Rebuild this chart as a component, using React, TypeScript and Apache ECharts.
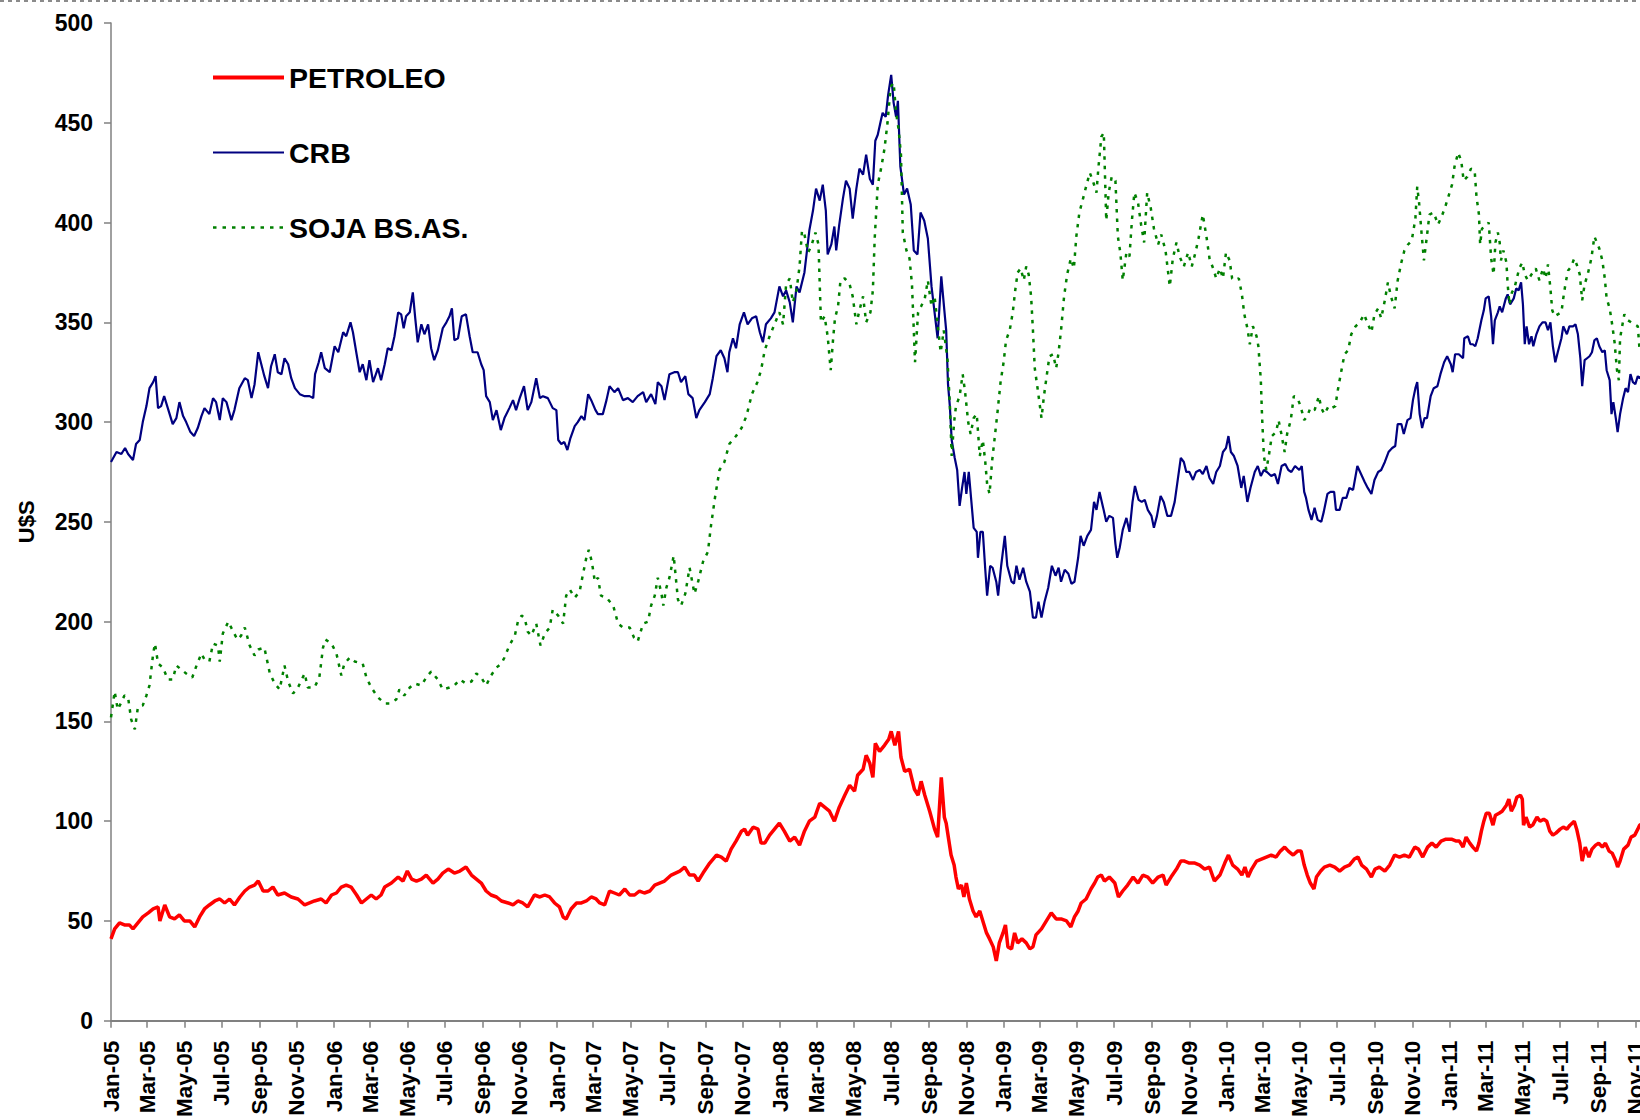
import React, { useEffect, useRef } from "react";
import * as echarts from "echarts";

// x = days since 2005-01-01, y = US$
const petroleo: [number, number][] = [
  [0,41],[6,46],[14,49],[22,48],[30,48],[36,46],[44,49],[52,52],[61,54],[69,56],[77,57],[80,50],[88,58],[96,52],[104,51],[112,53],[120,50],[129,50],[137,47],[145,52],[153,56],[161,58],[170,60],[178,61],[186,59],[194,61],[202,58],[211,62],[219,65],[227,67],[235,68],[241,70],[249,65],[257,65],[265,67],[273,63],[284,64],[295,62],[306,61],[317,58],[325,59],[333,60],[344,61],[352,59],[361,63],[369,64],[377,67],[385,68],[393,67],[402,63],[410,59],[418,61],[426,63],[434,61],[442,63],
  [448,67],[459,69],[470,72],[478,70],[485,75],[492,71],[500,70],[508,71],[516,73],[527,69],[535,71],[543,74],[552,76],[562,74],[571,75],[581,77],[590,73],[598,71],[606,69],[614,65],[622,63],[631,62],[639,60],[650,59],[658,58],[666,60],[674,59],[682,57],[693,63],[702,62],[710,63],[718,62],[726,59],[734,57],[740,52],[745,51],[753,56],[762,59],[770,59],[778,60],[786,62],[794,61],[800,59],[808,58],[816,65],[824,64],[832,63],[841,66],[849,63],[857,63],[865,65],[873,64],[882,65],[890,68],[898,69],
  [906,70],[917,73],[931,75],[939,77],[947,73],[955,73],[961,70],[969,74],[980,79],[991,83],[999,82],[1007,80],[1015,86],[1023,90],[1032,95],[1037,96],[1042,93],[1051,97],[1059,96],[1064,89],[1070,89],[1078,93],[1086,96],[1094,99],[1102,95],[1111,90],[1119,92],[1127,88],[1135,95],[1143,100],[1152,102],[1160,109],[1168,107],[1176,105],[1184,100],[1192,107],[1201,113],[1209,118],[1217,115],[1222,123],[1231,126],[1236,133],[1242,129],[1247,122],[1251,139],[1258,135],[1266,138],[1273,141],[1277,145],[1283,138],[1289,145],[1293,132],[1299,125],[1307,126],[1315,116],[1321,113],[1326,120],[1332,113],[1340,105],[1348,96],[1353,92],[1359,122],[1364,102],[1367,99],[1371,91],[1375,83],[1380,78],[1383,72],[1387,66],[1392,68],[1396,62],[1400,69],[1405,61],[1411,55],[1416,52],[1422,55],[1427,50],[1433,44],[1438,41],[1444,37],[1449,30],[1454,39],[1460,44],[1464,48],[1468,37],[1474,36],[1479,44],[1484,39],[1491,41],[1498,39],[1504,36],[1509,37],[1514,43],[1523,46],[1531,50],[1539,54],[1547,51],[1555,51],[1564,50],[1571,47],[1577,52],[1583,55],[1588,59],[1596,61],[1604,66],[1610,69],[1615,72],[1621,73],[1626,70],[1634,72],[1643,69],[1649,62],[1656,65],[1664,68],[1673,72],[1681,69],[1689,73],[1697,72],[1705,69],[1714,72],[1722,73],[1727,68],[1735,72],[1744,76],[1751,80],[1757,80],[1765,79],[1774,79],[1782,78],[1790,76],[1798,77],[1806,70],[1815,73],[1823,79],
  [1829,83],[1836,78],[1844,76],[1851,73],[1856,77],[1861,72],[1867,76],[1875,80],[1883,81],[1891,82],[1899,83],[1907,82],[1914,85],[1921,87],[1927,85],[1935,83],[1942,85],[1948,85],[1953,78],[1958,73],[1963,69],[1969,66],[1973,72],[1980,75],[1986,77],[1995,78],[2003,77],[2011,75],[2019,77],[2027,78],[2035,81],[2041,82],[2047,78],[2055,76],[2063,72],[2069,76],[2076,77],[2085,75],[2093,78],[2101,83],[2109,82],[2117,83],[2125,82],[2134,87],[2140,86],[2147,82],[2155,87],[2162,89],[2169,87],[2177,90],[2185,91],[2194,91],[2202,90],
  [2207,90],[2213,87],[2218,92],[2224,89],[2229,87],[2235,85],[2239,89],[2243,95],[2247,100],[2251,104],[2256,104],[2262,98],[2266,103],[2272,104],[2277,105],[2284,108],[2288,111],[2292,105],[2297,108],[2301,112],[2307,113],[2310,111],[2312,98],[2316,102],[2322,97],[2327,98],[2334,102],[2339,100],[2345,101],[2350,100],[2355,95],[2360,93],[2365,94],[2372,96],[2377,97],[2383,96],[2388,98],[2395,100],[2399,96],[2404,89],[2408,80],[2413,87],[2419,82],[2424,86],[2430,88],[2435,89],[2441,87],[2446,89],[2452,85],[2457,84],[2463,80],[2466,77],[2470,80],[2476,86],[2483,88],[2488,92],[2494,93],[2499,96],[2502,98],[2510,99],
];

const crb: [number, number][] = [
  [0,280],[9,285],[17,284],[23,287],[28,284],[36,281],[41,289],[47,291],[52,300],[58,308],[63,317],[69,320],[73,323],[77,307],[82,308],[87,313],[93,307],[101,299],[107,302],[112,310],[118,303],[123,300],[130,295],[136,293],[142,297],[148,303],[153,307],[161,304],[167,312],[172,310],[178,301],[183,312],[189,310],[197,301],[202,306],[210,317],[219,322],[224,321],[230,312],[235,319],[241,335],[246,329],[251,323],[257,317],[262,328],[268,334],[273,325],[279,324],[284,332],[290,329],[295,322],[301,317],[309,314],[317,313],[325,313],[331,312],[334,324],[340,330],[344,335],[350,327],[358,325],[366,338],[372,335],[380,345],[385,343],[392,350],[396,345],[402,334],[407,325],[412,329],[418,321],[423,331],[429,320],[437,327],[442,321],
  [448,329],[453,337],[459,336],[464,343],[470,355],[475,354],[479,347],[483,353],[489,355],[494,365],[498,352],[502,340],[508,349],[513,344],[519,349],[524,337],[529,331],[535,336],[543,347],[549,350],[554,353],[558,357],[562,341],[568,342],[574,353],[581,354],[587,343],[592,335],[600,335],[606,329],[610,326],[614,313],[620,310],[625,301],[631,306],[638,296],[644,302],[652,307],[658,311],[663,306],[669,312],[676,318],[682,306],[688,310],[696,322],[702,312],[707,313],[715,312],[723,307],[729,306],[732,291],[737,289],[742,290],[747,286],[752,292],[759,298],[764,300],[770,303],[775,301],[781,314],[786,311],[793,306],[797,304],[805,304],[811,311],[816,318],[824,315],[830,317],[838,311],[846,312],[854,310],[862,313],[871,315],[876,310],[884,314],[891,309],[895,320],[901,318],
  [906,311],[914,324],[922,325],[928,325],[933,320],[940,323],[945,314],[952,312],[958,302],[963,306],[972,310],[980,314],[985,322],[991,333],[998,336],[1004,332],[1009,325],[1012,335],[1018,342],[1023,337],[1029,349],[1036,355],[1042,349],[1049,352],[1056,353],[1062,345],[1067,340],[1072,349],[1080,352],[1086,355],[1094,368],[1100,363],[1105,366],[1111,360],[1116,350],[1122,368],[1127,365],[1135,375],[1143,396],[1149,406],[1154,417],[1160,411],[1165,419],[1170,406],[1173,384],[1179,389],[1184,398],[1187,386],[1192,399],[1198,412],[1203,421],[1209,417],[1214,402],[1220,417],[1225,427],[1231,424],[1236,434],[1242,422],[1247,419],[1251,441],[1255,444],[1260,451],[1263,455],[1268,453],[1272,464],[1277,474],[1281,460],[1285,453],[1288,461],[1292,428],[1298,414],[1303,417],[1309,409],[1314,386],[1320,384],[1325,405],[1331,401],[1337,392],[1343,368],[1348,355],[1353,342],[1359,373],[1364,356],
  [1367,346],[1370,319],[1373,308],[1376,291],[1381,282],[1385,276],[1389,258],[1393,267],[1397,275],[1400,264],[1404,275],[1408,261],[1412,247],[1417,245],[1419,232],[1423,245],[1427,245],[1431,226],[1434,213],[1439,228],[1443,227],[1449,220],[1452,213],[1457,228],[1463,243],[1467,228],[1474,220],[1478,219],[1482,228],[1487,221],[1493,227],[1498,220],[1504,215],[1509,202],[1514,202],[1518,210],[1523,202],[1528,210],[1534,217],[1540,228],[1546,223],[1551,227],[1555,220],[1561,226],[1567,224],[1572,219],[1577,220],[1583,232],[1587,243],[1592,238],[1598,243],[1604,246],[1609,260],[1613,256],[1618,265],[1624,257],[1629,250],[1634,253],[1640,252],[1644,239],[1647,232],[1651,237],[1656,246],[1662,252],[1667,245],[1672,260],[1676,268],[1682,261],[1687,260],[1692,261],[1697,256],[1703,253],[1707,247],[1712,253],[1718,263],[1723,260],[1729,253],[1735,253],[1741,260],[1746,271],[1751,282],[1756,280],[1760,275],[1765,275],[1771,271],[1776,275],[1782,276],[1787,274],[1793,278],[1798,272],[1804,269],[1809,275],[1815,278],[1820,285],
  [1825,287],[1829,293],[1833,285],[1838,283],[1844,278],[1850,267],[1854,273],[1860,260],[1865,267],[1872,275],[1877,278],[1882,273],[1887,276],[1892,275],[1899,273],[1905,274],[1910,269],[1916,278],[1922,279],[1927,276],[1932,275],[1938,278],[1945,276],[1949,278],[1953,265],[1956,262],[1960,256],[1965,251],[1970,257],[1975,251],[1981,250],[1985,255],[1991,264],[1996,265],[2002,265],[2005,256],[2011,256],[2016,262],[2022,262],[2027,267],[2033,266],[2040,278],[2046,274],[2052,270],[2057,267],[2063,264],[2068,271],[2074,275],[2079,276],[2085,280],[2091,285],[2097,287],[2102,288],[2106,299],[2112,299],[2116,294],[2122,301],[2127,302],[2131,311],[2135,317],[2138,320],[2142,304],[2146,297],[2150,302],[2154,302],[2160,313],[2165,317],[2171,318],[2176,324],[2182,330],[2187,333],[2193,329],[2196,325],[2200,334],[2206,334],
  [2213,332],[2215,342],[2221,343],[2225,339],[2229,339],[2233,338],[2237,342],[2243,351],[2247,356],[2250,362],[2255,363],[2259,353],[2262,339],[2265,351],[2270,355],[2273,358],[2277,355],[2283,362],[2286,364],[2290,359],[2296,362],[2300,367],[2304,366],[2308,370],[2311,359],[2314,339],[2317,348],[2321,339],[2325,343],[2328,338],[2333,344],[2338,348],[2343,350],[2348,350],[2352,346],[2356,350],[2360,338],[2364,330],[2368,335],[2374,342],[2377,348],[2383,344],[2387,348],[2393,348],[2397,349],[2401,344],[2405,332],[2408,318],[2412,331],[2416,332],[2420,333],[2424,335],[2428,341],[2432,342],[2436,338],[2441,335],[2445,336],[2448,326],[2453,321],[2456,304],[2459,310],[2463,302],[2466,295],[2470,304],[2475,312],[2479,317],[2483,315],[2487,324],[2491,320],[2495,319],[2499,323],[2502,322],[2510,325],
];

const soja: [number, number][] = [
  [0,152],[6,165],[11,156],[16,159],[22,163],[28,162],[33,151],[39,146],[44,157],[52,158],[58,163],[63,168],[69,184],[72,189],[77,179],[85,177],[93,171],[101,171],[107,178],[115,176],[123,174],[133,172],[140,178],[148,184],[153,181],[161,180],[167,189],[175,188],[178,180],[183,194],[192,200],[200,195],[207,191],[213,193],[219,197],[227,188],[235,183],[241,186],[251,187],[260,174],[268,169],[276,166],[284,178],[290,170],[298,164],[306,167],[317,174],[322,167],[333,167],[341,172],[347,187],[351,191],[361,189],[369,184],[377,173],[382,179],[391,182],[399,180],[412,179],[418,172],[426,167],[437,162],[448,159],
  [456,159],[467,161],[472,166],[480,163],[489,167],[497,169],[508,168],[516,172],[524,175],[535,171],[543,166],[554,167],[562,168],[571,171],[581,169],[590,170],[598,174],[606,172],[614,168],[622,173],[631,177],[639,179],[644,182],[652,188],[661,193],[666,200],[672,203],[677,202],[682,195],[688,193],[696,199],[703,188],[710,194],[718,197],[723,206],[732,203],[740,199],[745,213],[751,216],[759,212],[767,215],[772,223],[778,232],[782,236],[787,230],[792,220],[797,222],[802,213],[811,212],[822,208],[830,199],[838,197],[849,197],[856,192],[862,190],[871,199],[879,200],[884,208],[890,213],[895,222],[901,214],[904,208],
  [909,217],[914,222],[921,233],[928,211],[933,208],[940,214],[947,227],[955,214],[961,220],[969,230],[977,235],[982,248],[989,263],[996,276],[1004,280],[1012,289],[1023,293],[1032,297],[1040,303],[1049,314],[1058,320],[1064,326],[1070,336],[1078,343],[1086,349],[1094,355],[1100,349],[1105,369],[1111,372],[1116,360],[1122,366],[1127,378],[1131,396],[1135,394],[1141,385],[1146,388],[1153,395],[1158,389],[1162,350],[1168,353],[1173,343],[1178,326],[1182,342],[1185,352],[1190,358],[1194,371],[1201,372],[1209,369],[1214,363],[1220,349],[1225,356],[1231,363],[1236,350],[1243,355],[1247,366],[1250,392],[1255,419],[1261,428],[1266,437],[1271,450],[1276,468],[1281,470],[1285,455],[1289,447],[1293,434],[1296,395],[1302,386],[1307,382],[1311,369],[1314,346],[1316,330],[1321,355],[1326,358],[1332,362],[1337,371],[1343,358],[1348,363],[1353,349],[1358,335],[1363,346],[1369,332],[1373,309],[1376,283],
  [1380,300],[1383,308],[1389,313],[1394,324],[1398,315],[1403,300],[1407,294],[1412,302],[1417,304],[1422,283],[1427,291],[1431,280],[1434,269],[1438,264],[1442,280],[1446,291],[1451,305],[1456,320],[1461,330],[1465,341],[1471,346],[1476,355],[1480,366],[1484,375],[1489,377],[1494,371],[1498,378],[1502,374],[1506,363],[1509,346],[1512,327],[1517,316],[1523,302],[1527,313],[1531,322],[1536,333],[1542,334],[1547,327],[1551,335],[1555,346],[1560,363],[1565,374],[1571,382],[1576,377],[1580,393],[1585,405],[1591,412],[1596,418],[1602,425],[1607,421],[1613,415],[1616,427],[1621,443],[1625,445],[1629,401],[1633,415],[1638,423],[1644,421],[1648,393],[1652,385],[1656,371],[1662,385],[1667,383],[1671,401],[1675,415],[1681,410],[1686,399],[1691,390],[1696,415],[1702,407],[1707,397],[1714,389],[1719,394],[1726,386],[1733,368],[1738,382],[1744,390],[1749,383],[1756,378],[1763,385],[1769,378],[1775,385],[1780,392],[1787,404],[1793,393],[1798,382],[1804,377],[1809,372],[1815,377],[1820,372],
  [1825,385],[1831,381],[1835,372],[1839,371],[1846,372],[1851,364],[1855,354],[1860,347],[1864,339],[1869,348],[1875,343],[1878,338],[1882,321],[1884,303],[1887,283],[1891,276],[1895,283],[1900,293],[1907,295],[1911,301],[1915,295],[1921,285],[1925,294],[1931,301],[1936,313],[1942,312],[1947,308],[1953,301],[1958,303],[1963,307],[1970,306],[1977,313],[1981,307],[1986,304],[1993,308],[1998,307],[2004,308],[2008,316],[2014,326],[2019,334],[2025,336],[2030,344],[2037,348],[2044,350],[2051,354],[2056,350],[2063,345],[2068,354],[2074,357],[2079,352],[2085,361],[2090,370],[2095,363],[2101,357],[2106,371],[2112,380],[2117,386],[2123,389],[2129,391],[2135,402],[2138,418],[2141,410],[2145,395],[2149,381],[2153,391],[2158,404],[2165,405],[2172,399],[2178,403],[2184,408],[2189,413],[2195,419],[2199,428],[2205,435],[2210,431],[2214,421],[2220,423],[2226,427],[2232,426],
  [2235,413],[2239,404],[2241,389],[2244,397],[2250,398],[2255,400],[2259,382],[2263,374],[2266,390],[2270,395],[2273,390],[2275,381],[2279,386],[2284,380],[2286,369],[2289,359],[2293,365],[2297,367],[2301,372],[2305,377],[2310,380],[2314,374],[2319,371],[2325,374],[2332,377],[2338,371],[2344,377],[2348,372],[2352,379],[2356,367],[2359,356],[2363,353],[2368,354],[2374,355],[2377,362],[2381,370],[2385,376],[2390,378],[2395,382],[2399,379],[2404,374],[2408,361],[2412,369],[2417,374],[2423,382],[2428,393],[2432,390],[2436,387],[2441,381],[2445,372],[2448,362],[2453,357],[2457,349],[2461,340],[2465,326],[2468,321],[2470,342],[2474,349],[2477,354],[2483,351],[2488,350],[2494,349],[2499,348],[2502,336],[2510,338],
];

const MONTHS = ["Jan","Feb","Mar","Apr","May","Jun","Jul","Aug","Sep","Oct","Nov","Dec"];
const START = Date.UTC(2005, 0, 1);
const DAY_COUNT = 2556; // 2005-01-01 .. 2011-12-31
const days: string[] = Array.from({ length: DAY_COUNT }, (_, i) =>
  new Date(START + i * 86400000).toISOString().slice(0, 10)
);

const FONT = 'Arial, "Liberation Sans", Helvetica, sans-serif';

const isTickDay = (_: number, v: string) =>
  v.slice(8) === "01" && parseInt(v.slice(5, 7), 10) % 2 === 1;
const fmtMonth = (v: string) => MONTHS[parseInt(v.slice(5, 7), 10) - 1] + "-" + v.slice(2, 4);

export default function App() {
  const ref = useRef<HTMLDivElement>(null);
  useEffect(() => {
    if (!ref.current) return;
    const chart = echarts.init(ref.current, undefined, { renderer: "svg" });
    chart.setOption({
      animation: false,
      backgroundColor: "#ffffff",
      grid: { left: 111, right: 28, top: 23, bottom: 99, containLabel: false },
      legend: {
        orient: "vertical",
        left: 206,
        top: 58,
        itemWidth: 71,
        itemHeight: 14,
        itemGap: 46,
        itemStyle: { opacity: 0, borderWidth: 0 },
        textStyle: { fontSize: 28.5, fontWeight: "bold", fontFamily: FONT, color: "#000" },
        data: [
          { name: "PETROLEO", lineStyle: { width: 4, color: "#ff0000" } },
          { name: "CRB", lineStyle: { width: 2.2, color: "#000080" } },
          { name: "SOJA BS.AS.", lineStyle: { width: 2.5, color: "#008000", type: [3.5, 6] } },
        ],
      },
      xAxis: {
        type: "category",
        data: days,
        boundaryGap: false,
        axisLine: { show: true, lineStyle: { color: "#808080", width: 2 } },
        axisTick: { show: true, interval: isTickDay, length: 7, lineStyle: { color: "#808080", width: 1.5 } },
        axisLabel: {
          interval: isTickDay,
          formatter: fmtMonth,
          rotate: 90,
          margin: 20,
          fontSize: 22.5,
          fontWeight: "bold",
          fontFamily: FONT,
          color: "#000",
        },
        splitLine: { show: false },
      },
      yAxis: {
        type: "value",
        min: 0,
        max: 500,
        interval: 50,
        name: "U$S",
        nameLocation: "middle",
        nameRotate: 90,
        nameGap: 74,
        nameTextStyle: { fontSize: 22, fontWeight: "bold", fontFamily: FONT, color: "#000" },
        axisLine: { show: true, lineStyle: { color: "#808080", width: 1.5 } },
        axisTick: { show: true, length: 7, lineStyle: { color: "#808080", width: 1.5 } },
        axisLabel: { margin: 18, fontSize: 23, fontWeight: "bold", fontFamily: FONT, color: "#000" },
        splitLine: { show: false },
      },
      graphic: [
        {
          type: "line",
          shape: { x1: 0, y1: 1, x2: 1700, y2: 1 },
          style: { stroke: "#666", lineWidth: 1.5, lineDash: [4, 4] },
          silent: true,
        },
      ],
      series: [
        {
          name: "PETROLEO",
          type: "line",
          data: petroleo,
          showSymbol: false,
          symbol: "none",
          lineStyle: { color: "#ff0000", width: 3.5 },
          itemStyle: { color: "#ff0000" },
          z: 3,
        },
        {
          name: "CRB",
          type: "line",
          data: crb,
          showSymbol: false,
          symbol: "none",
          lineStyle: { color: "#000080", width: 2.2 },
          itemStyle: { color: "#000080" },
          z: 2,
        },
        {
          name: "SOJA BS.AS.",
          type: "line",
          data: soja,
          showSymbol: false,
          symbol: "none",
          lineStyle: { color: "#008000", width: 2.5, type: [3.5, 6] },
          itemStyle: { color: "#008000" },
          z: 2,
        },
      ],
    });
    return () => chart.dispose();
  }, []);

  return (
    <div style={{ position: "absolute", left: 0, top: 0, width: 1640, height: 1120, overflow: "hidden", background: "#fff" }}>
      <div ref={ref} style={{ width: 1700, height: 1120 }} />
    </div>
  );
}
